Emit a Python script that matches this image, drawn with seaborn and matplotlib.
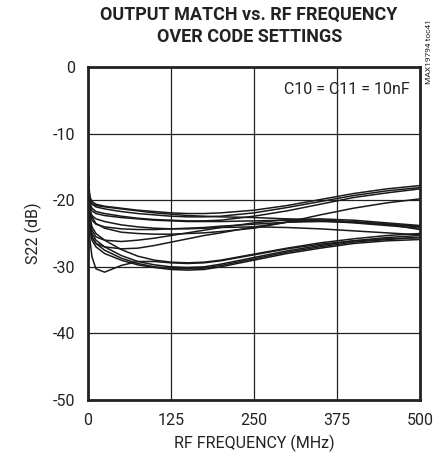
import numpy as np
import pandas as pd
import matplotlib
matplotlib.use("Agg")
import matplotlib.pyplot as plt
import seaborn as sns

# frequences (MHz) et courbes S22 (dB)
freq = [0, 1, 3, 6, 12, 25, 50, 75, 100, 125, 150, 175, 200, 250, 300, 350, 400, 450, 500]

t1 = [-12.5, -17.5, -19.5, -20.2, -20.6, -20.9, -21.2, -21.5, -21.7, -21.9, -22.0, -22.0, -21.9, -21.5, -20.8, -19.9, -19.0, -18.3, -17.8]
t2 = [-13.0, -18.0, -20.0, -20.6, -21.0, -21.3, -21.7, -22.0, -22.2, -22.4, -22.5, -22.5, -22.4, -21.9, -21.1, -20.2, -19.3, -18.6, -18.1]
t3 = [-13.5, -18.5, -20.5, -21.2, -21.7, -22.0, -22.4, -22.7, -22.9, -23.0, -23.1, -23.1, -23.0, -22.4, -21.6, -20.6, -19.6, -18.9, -18.3]
t4 = [-14.0, -19.0, -21.5, -22.5, -23.5, -24.2, -24.8, -25.0, -25.1, -25.1, -25.0, -24.9, -24.7, -24.2, -23.3, -22.2, -21.2, -20.4, -19.8]
m1 = [-13.0, -18.0, -20.0, -20.5, -20.8, -21.0, -21.3, -21.6, -21.9, -22.1, -22.3, -22.4, -22.5, -22.6, -22.8, -23.0, -23.3, -23.6, -23.9]
m2 = [-14.0, -19.0, -21.0, -21.6, -22.0, -22.3, -22.6, -22.8, -23.0, -23.1, -23.2, -23.2, -23.2, -23.1, -23.0, -23.1, -23.4, -23.8, -24.2]
m3 = [-15.0, -20.0, -23.0, -24.5, -25.5, -26.0, -26.2, -26.0, -25.7, -25.3, -24.9, -24.5, -24.1, -23.4, -22.9, -22.8, -23.0, -23.4, -23.8]
m4 = [-15.0, -20.5, -24.0, -25.5, -26.5, -27.0, -27.3, -27.2, -26.8, -26.3, -25.8, -25.3, -24.9, -24.0, -23.3, -23.0, -23.2, -23.6, -24.0]
m5 = [-14.5, -19.5, -22.0, -23.0, -23.6, -24.0, -24.3, -24.4, -24.4, -24.3, -24.2, -24.1, -23.9, -23.6, -23.3, -23.2, -23.3, -23.6, -24.4]
m6 = [-14.0, -19.0, -21.5, -22.3, -22.8, -23.2, -23.7, -24.0, -24.2, -24.3, -24.3, -24.2, -24.1, -24.0, -24.1, -24.3, -24.6, -24.9, -25.2]
b1 = [-15.0, -20.5, -23.5, -25.0, -26.0, -27.0, -28.3, -29.2, -29.7, -30.0, -30.1, -30.0, -29.6, -28.6, -27.6, -26.8, -26.1, -25.6, -25.3]
b2 = [-15.0, -21.0, -24.0, -25.5, -26.5, -27.5, -28.7, -29.5, -30.0, -30.2, -30.3, -30.2, -29.8, -28.8, -27.8, -27.0, -26.3, -25.9, -25.6]
b3 = [-15.5, -21.0, -24.5, -26.0, -27.0, -28.0, -29.0, -29.7, -30.1, -30.4, -30.5, -30.4, -30.0, -29.0, -28.0, -27.2, -26.5, -26.1, -25.9]
b4 = [-15.0, -20.0, -22.5, -24.0, -25.0, -26.0, -27.4, -28.4, -29.0, -29.3, -29.4, -29.3, -29.0, -28.1, -27.2, -26.4, -25.8, -25.3, -25.0]
b5 = [-16.0, -22.0, -26.0, -28.5, -30.3, -30.8, -29.8, -29.2, -29.2, -29.4, -29.5, -29.4, -29.1, -28.2, -27.3, -26.6, -26.1, -25.8, -25.6]

courbes = {"t1": t1, "t2": t2, "t3": t3, "t4": t4,
           "m1": m1, "m2": m2, "m3": m3, "m4": m4, "m5": m5, "m6": m6,
           "b1": b1, "b2": b2, "b3": b3, "b4": b4, "b5": b5}

rows = []
for nom, vals in courbes.items():
    for f, v in zip(freq, vals):
        rows.append((nom, f, v))
df = pd.DataFrame(rows, columns=["code", "freq", "s22"])

sns.set_style("white")
plt.rcParams["font.family"] = ["Roboto", "DejaVu Sans"]
plt.rcParams["axes.unicode_minus"] = False

fig = plt.figure(figsize=(4.41, 4.59), dpi=100)
ax = fig.add_axes([0.1995, 0.1285, 0.7525, 0.7255])

sns.lineplot(data=df, x="freq", y="s22", units="code", estimator=None,
             color="#1a1a1a", linewidth=1.1, ax=ax, legend=False)

ax.set_xlim(0, 500)
ax.set_ylim(-50, 0)
ax.set_xticks([0, 125, 250, 375, 500])
ax.set_yticks([0, -10, -20, -30, -40, -50])
ax.grid(True, color="#222222", linewidth=0.9)
for s in ax.spines.values():
    s.set_linewidth(2)
    s.set_color("#222222")
ax.tick_params(axis="both", length=0, labelsize=11.5, pad=9, labelcolor="#222222")
ax.set_xlabel("RF FREQUENCY (MHz)", fontsize=11.5, labelpad=5, color="#222222")
ax.set_ylabel("S22 (dB)", fontsize=11.5, labelpad=8, color="#222222")

ax.text(0.97, 0.955, "C10 = C11 = 10nF", transform=ax.transAxes,
        ha="right", va="top", fontsize=11.5, color="#222222")

fig.text(0.565, 0.988, "OUTPUT MATCH vs. RF FREQUENCY\nOVER CODE SETTINGS",
         ha="center", va="top", fontsize=13, fontweight="bold", linespacing=1.35,
         color="#222222")
fig.text(0.972, 0.958, "MAX19794 toc41", rotation=90, ha="center", va="top",
         fontsize=6, color="#222222")

fig.savefig("out.png", dpi=100)
